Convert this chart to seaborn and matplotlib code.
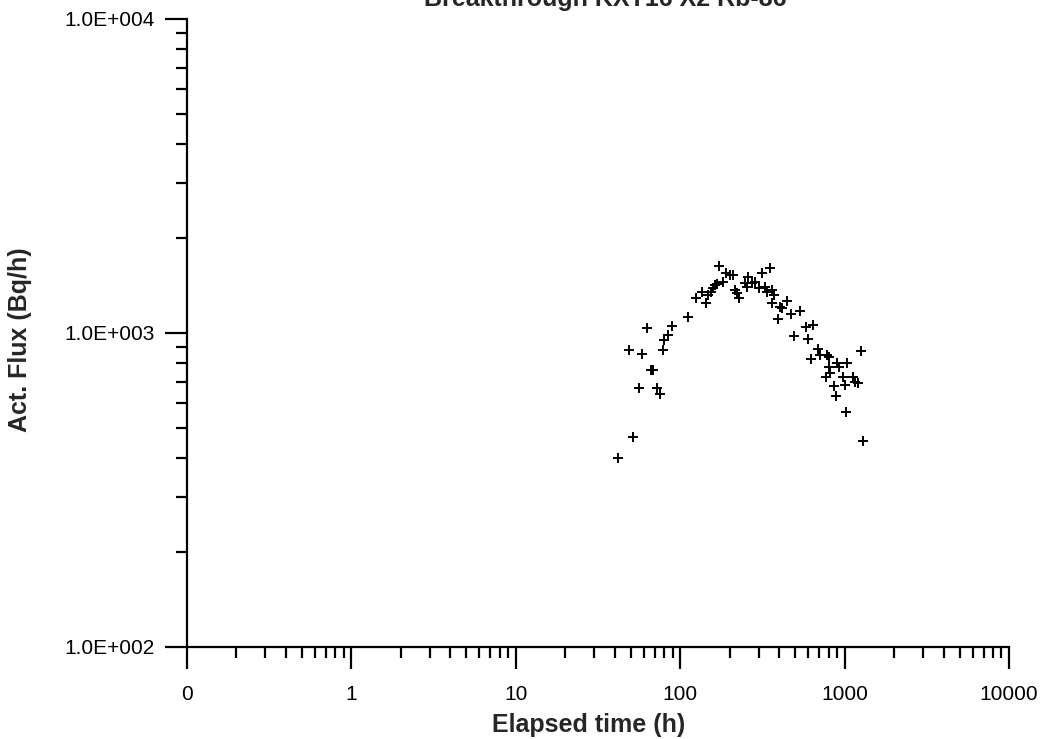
import matplotlib
matplotlib.use("Agg")
import matplotlib.pyplot as plt
import matplotlib.ticker as mticker
import seaborn as sns
import pandas as pd
import numpy as np

# Data
elapsed_h = [42.0, 51.4, 49.0, 56.1, 62.5, 58.3, 66.4, 68.6, 72.6, 75.4,
             78.3, 80.0, 83.9, 88.8, 111, 124, 135, 143.5, 148.2, 153.9,
             158.9, 162.8, 166.7, 173, 181.4, 190, 201, 210, 215, 221,
             229, 248, 254, 259, 272, 285, 303, 313, 328, 336,
             352, 363, 372, 363, 405, 418, 392, 448, 470, 536,
             494, 580, 645, 601, 692, 709, 622, 778, 807, 807,
             815, 771, 903, 929, 1038, 982, 1006, 862, 883, 1016,
             1130, 1157, 1211, 1253, 1299]
flux_bq_h = [399, 468, 883, 667, 1040, 855, 762, 762, 667, 638,
             883, 950, 985, 1052, 1127, 1290, 1348, 1243, 1321, 1354,
             1388, 1422, 1432, 1638, 1457, 1549, 1530, 1530, 1371, 1344,
             1296, 1440, 1398, 1511, 1440, 1457, 1388, 1556, 1398, 1354,
             1607, 1371, 1321, 1243, 1213, 1198, 1108, 1264, 1149, 1178,
             978, 1047, 1060, 957, 889, 851, 826, 851, 837, 778,
             747, 726, 801, 778, 801, 726, 683, 680, 630, 562,
             726, 697, 694, 878, 454]

x_ticks = [0.1, 1, 10, 100, 1000, 10000]
x_ticklabels = ["0", "1", "10", "100", "1000", "10000"]
y_ticks = [100, 1000, 10000]
y_ticklabels = ["1.0E+002", "1.0E+003", "1.0E+004"]

df = pd.DataFrame({"t": elapsed_h, "flux": flux_bq_h})

sns.set_style("ticks")
plt.rcParams['font.family'] = ['Liberation Sans', 'DejaVu Sans']

f = plt.figure(figsize=(10.44, 7.39), dpi=100)
ax = f.add_axes([187 / 1044, 1 - 647 / 739, (1009 - 187) / 1044, (647 - 19) / 739])

sns.scatterplot(data=df, x="t", y="flux", marker="+", color="black", s=55,
                linewidth=1.4, ax=ax, legend=False)

ax.set_xscale("log")
ax.set_yscale("log")
ax.set_xlim(0.1, 10000)
ax.set_ylim(100, 10000)

ax.xaxis.set_major_locator(mticker.FixedLocator(x_ticks))
ax.xaxis.set_major_formatter(mticker.FixedFormatter(x_ticklabels))
ax.xaxis.set_minor_locator(mticker.LogLocator(base=10, subs=np.arange(2, 10)))
ax.xaxis.set_minor_formatter(mticker.NullFormatter())
ax.yaxis.set_major_locator(mticker.FixedLocator(y_ticks))
ax.yaxis.set_major_formatter(mticker.FixedFormatter(y_ticklabels))
ax.yaxis.set_minor_locator(mticker.LogLocator(base=10, subs=np.arange(2, 10)))
ax.yaxis.set_minor_formatter(mticker.NullFormatter())

sns.despine(ax=ax)
for side in ["left", "bottom"]:
    ax.spines[side].set_linewidth(1.6)
    ax.spines[side].set_color("black")

ax.tick_params(which="major", direction="out", length=16, width=1.6, color="black",
               labelsize=15, labelcolor="black")
ax.tick_params(which="minor", direction="out", length=8, width=1.6, color="black")
ax.tick_params(axis="x", which="major", pad=11)
ax.tick_params(axis="y", which="major", pad=7)

ax.set_xlabel("Elapsed time (h)", fontsize=18, fontweight="bold")
ax.set_ylabel("Act. Flux (Bq/h)", fontsize=18, fontweight="bold")
ax.xaxis.set_label_coords(0.489, -0.105)
ax.yaxis.set_label_coords(-0.188, 0.49)

# Title is clipped by the top edge in the scan
f.text(0.58, 1 - 6 / 739, "Breakthrough KXT16 X2 Rb-86", ha="center", va="baseline",
       fontsize=18, fontweight="bold")

plt.savefig("out.png", dpi=100)
